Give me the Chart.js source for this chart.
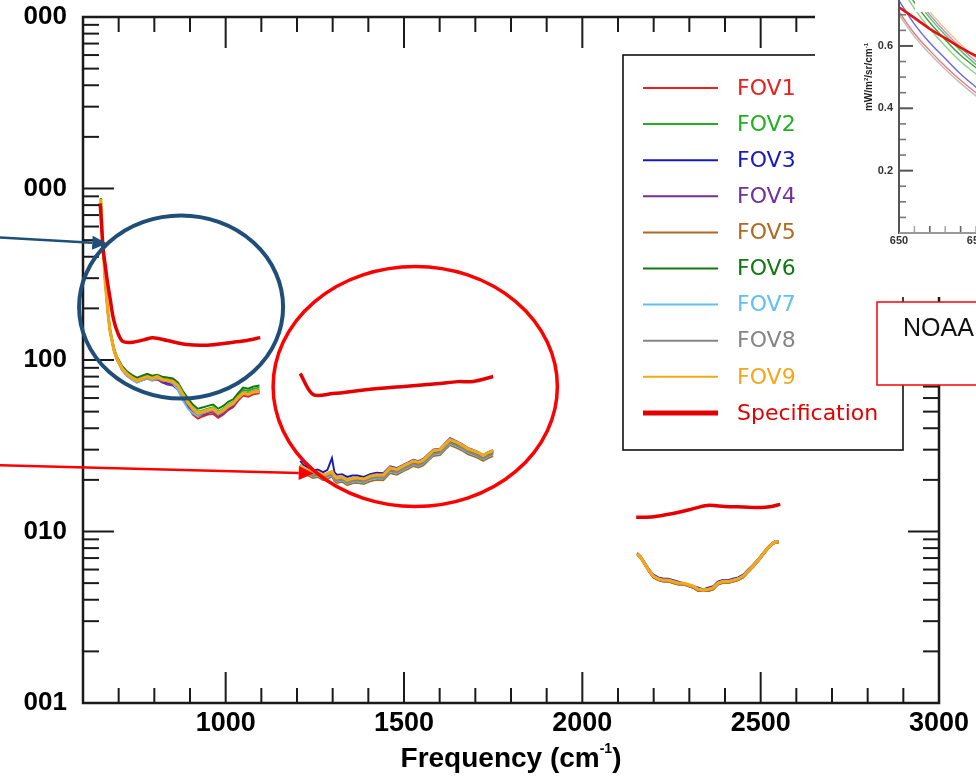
<!DOCTYPE html>
<html><head><meta charset="utf-8">
<script src="https://cdn.jsdelivr.net/npm/chart.js@4.4.1/dist/chart.umd.min.js"></script>
<style>
html,body{margin:0;padding:0;background:#fff;overflow:hidden;width:976px;height:776px;}
#wrap{position:relative;width:976px;height:776px;overflow:hidden;background:#fff;}
#main{position:absolute;left:0;top:0;}
#inset{position:absolute;left:815px;top:-29px;}
</style></head><body>
<div id="wrap">
<canvas id="main" width="976" height="776"></canvas>
<canvas id="inset" width="400" height="326"></canvas>
</div>
<script>
// ---------------- DATA ----------------
const seriesNames = ['FOV1','FOV2','FOV3','FOV4','FOV5','FOV6','FOV7','FOV8','FOV9'];
const specName = 'Specification';

const xTickValues = [1000,1500,2000,2500,3000];
const xTickLabels = ['1000','1500','2000','2500','3000'];
const yTickValues = [0.001,0.01,0.1,1,10];
const yTickLabels = ['001','010','100','000','000'];

// LW band
const lwFreq = [650,653,658,662,670,676,687,695,710,723,737,751,766,780,794,808,822,836,852,866,880,894,908,922,937,950,965,979,993,1007,1021,1035,1049,1063,1077,1095];
const lwFOV1 = [0.86,0.57,0.39,0.28,0.183,0.144,0.112,0.100,0.087,0.081,0.077,0.074,0.076,0.078,0.076,0.077,0.074,0.073,0.072,0.068,0.060,0.053,0.048,0.0455,0.047,0.048,0.0485,0.046,0.048,0.051,0.053,0.058,0.062,0.061,0.063,0.064];
const lwFOV2 = [0.88,0.59,0.41,0.30,0.190,0.150,0.116,0.104,0.091,0.085,0.081,0.078,0.080,0.082,0.080,0.081,0.079,0.077,0.076,0.072,0.064,0.058,0.053,0.050,0.051,0.052,0.053,0.050,0.052,0.055,0.057,0.062,0.067,0.066,0.068,0.069];
const lwFOV3 = [0.87,0.58,0.40,0.29,0.186,0.146,0.113,0.101,0.088,0.082,0.078,0.075,0.077,0.079,0.077,0.078,0.075,0.074,0.073,0.068,0.061,0.055,0.051,0.048,0.049,0.050,0.051,0.048,0.050,0.053,0.055,0.060,0.064,0.063,0.065,0.066];
const lwFOV4 = [0.86,0.58,0.40,0.29,0.185,0.145,0.113,0.101,0.088,0.082,0.078,0.075,0.077,0.079,0.077,0.078,0.074,0.072,0.071,0.067,0.060,0.054,0.050,0.047,0.048,0.049,0.050,0.047,0.049,0.052,0.054,0.059,0.063,0.062,0.064,0.065];
const lwFOV5 = [0.87,0.58,0.40,0.29,0.188,0.148,0.115,0.103,0.090,0.084,0.080,0.077,0.079,0.081,0.079,0.081,0.078,0.077,0.076,0.072,0.063,0.057,0.052,0.049,0.050,0.051,0.052,0.049,0.051,0.054,0.056,0.061,0.065,0.064,0.066,0.067];
const lwFOV6 = [0.88,0.59,0.41,0.30,0.191,0.151,0.117,0.105,0.092,0.086,0.082,0.079,0.081,0.083,0.081,0.082,0.080,0.079,0.078,0.074,0.066,0.060,0.055,0.052,0.053,0.054,0.055,0.052,0.054,0.057,0.059,0.064,0.069,0.068,0.070,0.071];
const lwFOV7 = [0.86,0.57,0.39,0.28,0.184,0.145,0.112,0.100,0.087,0.081,0.077,0.074,0.076,0.078,0.076,0.078,0.076,0.075,0.073,0.067,0.058,0.052,0.049,0.047,0.049,0.050,0.051,0.048,0.050,0.053,0.055,0.060,0.064,0.063,0.065,0.066];
const lwFOV8 = [0.87,0.58,0.40,0.29,0.186,0.146,0.113,0.101,0.088,0.082,0.078,0.075,0.077,0.079,0.077,0.079,0.076,0.075,0.074,0.070,0.062,0.056,0.051,0.048,0.049,0.050,0.051,0.048,0.050,0.053,0.055,0.060,0.064,0.063,0.065,0.066];
const lwFOV9 = [0.87,0.58,0.40,0.29,0.187,0.147,0.114,0.102,0.089,0.083,0.079,0.076,0.078,0.080,0.078,0.080,0.077,0.076,0.075,0.071,0.063,0.0565,0.052,0.049,0.050,0.051,0.052,0.049,0.051,0.054,0.056,0.0605,0.064,0.063,0.065,0.0655];
const lwSpecFreq = [648,650,653,656,662,668,676,685,698,712,740,770,796,836,892,948,1021,1060,1097];
const lwSpec = [0.82,0.72,0.57,0.45,0.36,0.29,0.228,0.175,0.143,0.128,0.127,0.131,0.135,0.130,0.123,0.122,0.127,0.130,0.135];

// MW band
const mwFreq = [1209,1218,1228,1237,1245,1258,1273,1285,1298,1305,1312,1326,1341,1355,1369,1387,1405,1423,1442,1461,1480,1498,1512,1526,1540,1554,1568,1582,1601,1615,1629,1649,1666,1680,1694,1708,1722,1736,1750];
const mwFOV1 = [0.0243,0.0232,0.0227,0.0222,0.0218,0.0221,0.0212,0.0216,0.0222,0.0210,0.0204,0.0207,0.0198,0.0203,0.0204,0.0201,0.0209,0.0213,0.0212,0.0233,0.0228,0.0239,0.0247,0.0256,0.0251,0.0259,0.0275,0.0293,0.0297,0.0318,0.0339,0.0326,0.0313,0.0300,0.0293,0.0285,0.0274,0.0285,0.0293];
const mwFOV2 = [0.0245,0.0235,0.0229,0.0224,0.0220,0.0223,0.0214,0.0218,0.0224,0.0212,0.0206,0.0209,0.0200,0.0205,0.0206,0.0203,0.0211,0.0215,0.0214,0.0235,0.0230,0.0241,0.0249,0.0258,0.0254,0.0262,0.0278,0.0296,0.0300,0.0321,0.0342,0.0329,0.0316,0.0303,0.0296,0.0288,0.0277,0.0288,0.0296];
const mwFOV3 = [0.0258,0.0245,0.0238,0.0232,0.0226,0.0230,0.0222,0.0228,0.0268,0.0222,0.0214,0.0216,0.0208,0.0212,0.0212,0.0208,0.0216,0.0220,0.0219,0.0240,0.0234,0.0245,0.0253,0.0262,0.0257,0.0265,0.0282,0.0300,0.0304,0.0326,0.0350,0.0334,0.0320,0.0306,0.0299,0.0290,0.0279,0.0290,0.0298];
const mwFOV4 = [0.0241,0.0230,0.0225,0.0220,0.0216,0.0219,0.0210,0.0214,0.0220,0.0208,0.0202,0.0205,0.0196,0.0201,0.0202,0.0199,0.0207,0.0211,0.0210,0.0231,0.0226,0.0237,0.0245,0.0253,0.0249,0.0257,0.0272,0.0290,0.0294,0.0315,0.0336,0.0323,0.0310,0.0297,0.0290,0.0282,0.0271,0.0282,0.0290];
const mwFOV5 = [0.0229,0.0218,0.0213,0.0209,0.0205,0.0208,0.0199,0.0203,0.0209,0.0197,0.0192,0.0195,0.0186,0.0191,0.0192,0.0189,0.0196,0.0200,0.0199,0.0219,0.0214,0.0225,0.0232,0.0241,0.0236,0.0243,0.0259,0.0275,0.0279,0.0299,0.0319,0.0306,0.0294,0.0282,0.0275,0.0268,0.0258,0.0268,0.0275];
const mwFOV6 = [0.0238,0.0227,0.0222,0.0218,0.0214,0.0217,0.0208,0.0212,0.0218,0.0206,0.0200,0.0203,0.0194,0.0199,0.0200,0.0197,0.0205,0.0209,0.0208,0.0228,0.0223,0.0234,0.0242,0.0251,0.0246,0.0254,0.0270,0.0287,0.0291,0.0312,0.0332,0.0319,0.0307,0.0294,0.0287,0.0279,0.0269,0.0279,0.0287];
const mwFOV7 = [0.0233,0.0223,0.0218,0.0213,0.0209,0.0212,0.0204,0.0207,0.0213,0.0202,0.0196,0.0199,0.0190,0.0195,0.0196,0.0193,0.0201,0.0204,0.0204,0.0224,0.0219,0.0229,0.0237,0.0246,0.0241,0.0249,0.0264,0.0281,0.0285,0.0305,0.0325,0.0313,0.0300,0.0288,0.0281,0.0274,0.0263,0.0274,0.0281];
const mwFOV8 = [0.0236,0.0225,0.0220,0.0215,0.0211,0.0214,0.0206,0.0210,0.0215,0.0204,0.0198,0.0201,0.0192,0.0197,0.0198,0.0195,0.0203,0.0207,0.0206,0.0226,0.0221,0.0232,0.0240,0.0248,0.0243,0.0251,0.0267,0.0284,0.0288,0.0308,0.0329,0.0316,0.0304,0.0291,0.0284,0.0276,0.0266,0.0276,0.0284];
const mwFOV9 = [0.0244,0.0234,0.0229,0.0223,0.0219,0.0222,0.0213,0.0217,0.0223,0.0211,0.0205,0.0208,0.0199,0.0204,0.0205,0.0202,0.0210,0.0214,0.0213,0.0235,0.0230,0.0241,0.0249,0.0258,0.0253,0.0261,0.0278,0.0296,0.0300,0.0321,0.0343,0.0330,0.0316,0.0303,0.0296,0.0288,0.0277,0.0288,0.0296];
const mwSpecFreq = [1209,1245,1300,1400,1500,1600,1650,1694,1750];
const mwSpec = [0.0834,0.0629,0.0637,0.0673,0.0701,0.0730,0.0748,0.0750,0.0801];

// SW band
const swFreq = [2154,2163,2171,2185,2199,2213,2227,2241,2255,2269,2283,2297,2311,2325,2339,2353,2367,2380,2392,2408,2423,2437,2451,2465,2479,2493,2507,2520,2533,2542,2550];
const swFOV1 = [0.0074,0.0071,0.0067,0.0060,0.0055,0.0053,0.0052,0.0052,0.0051,0.0050,0.0050,0.0049,0.0048,0.0046,0.00455,0.0046,0.0047,0.0050,0.0051,0.0051,0.0052,0.0053,0.0055,0.0059,0.0063,0.0068,0.0074,0.0080,0.0085,0.0087,0.0087];
const swFOV2 = [0.0074,0.0071,0.0067,0.0060,0.0055,0.0053,0.0052,0.0052,0.0051,0.0050,0.0050,0.0049,0.0048,0.0046,0.0046,0.0046,0.0047,0.0050,0.0051,0.0051,0.0052,0.0053,0.0055,0.0059,0.0063,0.0068,0.0074,0.0080,0.0085,0.0087,0.0087];
const swFOV3 = [0.0075,0.0072,0.0068,0.0061,0.0056,0.0054,0.0053,0.0053,0.0052,0.0051,0.0050,0.0049,0.0048,0.0047,0.0046,0.0047,0.0048,0.0051,0.0052,0.0052,0.0053,0.0054,0.0056,0.0060,0.0064,0.0069,0.0075,0.0081,0.0086,0.0088,0.0088];
const swFOV4 = [0.0073,0.0070,0.0066,0.0059,0.0054,0.0052,0.0051,0.0051,0.0050,0.0049,0.0049,0.0048,0.0047,0.0045,0.0045,0.0045,0.0046,0.0049,0.0050,0.0050,0.0051,0.0052,0.0054,0.0058,0.0062,0.0067,0.0073,0.0079,0.0084,0.0086,0.0086];
const swFOV5 = [0.0073,0.0070,0.0066,0.0059,0.0054,0.0052,0.0051,0.0051,0.0050,0.0049,0.0049,0.0048,0.0047,0.0045,0.0045,0.0045,0.0046,0.0049,0.0050,0.0050,0.0051,0.0052,0.0054,0.0058,0.0062,0.0067,0.0073,0.0079,0.0084,0.0086,0.0086];
const swFOV6 = [0.0074,0.0071,0.0067,0.0060,0.0055,0.0053,0.0052,0.0052,0.0051,0.0050,0.0050,0.0049,0.0048,0.0046,0.0046,0.0046,0.0047,0.0050,0.0051,0.0051,0.0052,0.0053,0.0055,0.0059,0.0063,0.0068,0.0074,0.0080,0.0085,0.0087,0.0087];
const swFOV7 = [0.0074,0.0071,0.0067,0.0060,0.0055,0.0053,0.0052,0.0052,0.0051,0.0050,0.0050,0.0049,0.0048,0.0046,0.0046,0.0046,0.0047,0.0050,0.0051,0.0051,0.0052,0.0053,0.0055,0.0059,0.0063,0.0068,0.0074,0.0080,0.0085,0.0087,0.0088];
const swFOV8 = [0.0074,0.0071,0.0067,0.0060,0.0055,0.0053,0.0052,0.0052,0.0051,0.0050,0.0050,0.0049,0.0048,0.0046,0.0045,0.0046,0.0047,0.0050,0.0051,0.0051,0.0052,0.0053,0.0055,0.0059,0.0064,0.0069,0.0075,0.0081,0.0086,0.0088,0.0088];
const swFOV9 = [0.0074,0.0071,0.0067,0.0060,0.0055,0.0053,0.0052,0.0052,0.0051,0.0050,0.0050,0.0049,0.0048,0.0046,0.00455,0.0046,0.0047,0.0050,0.0051,0.0051,0.0052,0.0053,0.0055,0.0059,0.0063,0.0068,0.0074,0.0080,0.0085,0.0087,0.0087];
const swSpecFreq = [2151,2200,2250,2300,2350,2400,2450,2500,2530,2555];
const swSpec = [0.0121,0.0122,0.0127,0.0134,0.0142,0.0140,0.0139,0.0138,0.0140,0.0144];

// Inset (partially visible radiance plot)
const insetFreq = [650,651,652,653,654,655,656];
const insetGray   = [0.70,0.63,0.575,0.525,0.48,0.44,0.405];
const insetPink   = [0.71,0.64,0.585,0.535,0.49,0.45,0.415];
const insetBlue   = [0.745,0.67,0.61,0.56,0.51,0.468,0.43];
const insetLGreen = [0.80,0.72,0.655,0.60,0.55,0.51,0.47];
const insetDGreen = [0.82,0.74,0.675,0.62,0.57,0.53,0.49];
const insetGreen  = [0.83,0.755,0.69,0.635,0.585,0.54,0.50];
const insetPurple = [0.845,0.765,0.70,0.645,0.595,0.55,0.51];
const insetOrange = [0.86,0.78,0.71,0.655,0.605,0.56,0.52];
const insetRed    = [0.724,0.69,0.655,0.625,0.595,0.568,0.545];
const insetXTicks = [650,655,660];
const insetXLabels = ['650','655','660'];
const insetYTicks = [0.2,0.4,0.6];
const insetYLabels = ['0.2','0.4','0.6'];

// ---------------- STYLE ----------------
const fovColors = ['#e82020','#22b022','#1818c0','#7030a0','#b06a20','#107810','#60c0f0','#858585','#f2a81a'];
const specColor = '#e40000';

const lwAll = [lwFOV1,lwFOV2,lwFOV3,lwFOV4,lwFOV5,lwFOV6,lwFOV7,lwFOV8,lwFOV9];
const mwAll = [mwFOV1,mwFOV2,mwFOV3,mwFOV4,mwFOV5,mwFOV6,mwFOV7,mwFOV8,mwFOV9];
const swAll = [swFOV1,swFOV2,swFOV3,swFOV4,swFOV5,swFOV6,swFOV7,swFOV8,swFOV9];

function pts(fr, vals){ return fr.map((f,i)=>({x:f,y:vals[i]})); }
function bands(a,b,c,fa,fb,fc){
  return [...pts(fa,a),{x:1150,y:null},...pts(fb,b),{x:1950,y:null},...pts(fc,c)];
}

// later FOVs drawn on top (Chart.js draws lower "order" last)
const datasets = seriesNames.map((n,i)=>({
  label:n,
  data:bands(lwAll[i],mwAll[i],swAll[i],lwFreq,mwFreq,swFreq),
  borderColor:fovColors[i], backgroundColor:fovColors[i],
  borderWidth:(i===8)?3.2:1.9, pointRadius:0, tension:0, spanGaps:false,
  order:seriesNames.length-i
}));
datasets.push({
  label:specName,
  data:bands(lwSpec,mwSpec,swSpec,lwSpecFreq,mwSpecFreq,swSpecFreq),
  borderColor:specColor, backgroundColor:specColor,
  borderWidth:3.5, pointRadius:0, tension:0.3, spanGaps:false, isSpec:true, order:0
});

// annotations in data coordinates (freq, value)
const annotations = {
  blueEllipse:{f0:589,f1:1161,v0:0.696,v1:0.0596,color:'#1f4e79',width:4},
  redEllipse:{f0:1133,f1:1930,v0:0.351,v1:0.01398,color:'#ff0000',width:3.5},
  blueArrow:{f0:367,v0:0.518,f1:668,v1:0.478,color:'#1f4e79'},
  redArrow:{f0:367,v0:0.0243,f1:1247,v1:0.0218,color:'#ff0000'}
};

const LBL = '"Liberation Sans", Arial, Helvetica, sans-serif';

function line(ctx,x1,y1,x2,y2){ctx.beginPath();ctx.moveTo(x1,y1);ctx.lineTo(x2,y2);ctx.stroke();}
function arrow(ctx,x1,y1,x2,y2,color){
  const ang=Math.atan2(y2-y1,x2-x1), L=15, W=7;
  const bx=x2-L*Math.cos(ang), by=y2-L*Math.sin(ang);
  ctx.strokeStyle=color; ctx.fillStyle=color; ctx.lineWidth=2.5;
  line(ctx,x1,y1,bx,by);
  ctx.beginPath();
  ctx.moveTo(x2,y2);
  ctx.lineTo(bx+W*Math.sin(ang),by-W*Math.cos(ang));
  ctx.lineTo(bx-W*Math.sin(ang),by+W*Math.cos(ang));
  ctx.closePath(); ctx.fill();
}

const mainDecor = {
  id:'mainDecor',
  afterDraw(chart){
    const ctx=chart.ctx, a=chart.chartArea, xs=chart.scales.x, ys=chart.scales.y;
    ctx.save();
    ctx.strokeStyle='#1a1a1a'; ctx.lineCap='butt';
    // ticks
    ctx.lineWidth=2;
    for(let v=700; v<3000; v+=100){
      const px=xs.getPixelForValue(v);
      const len=(v%500===0)?31:15;
      line(ctx,px,a.bottom,px,a.bottom-len);
      line(ctx,px,a.top,px,a.top+len);
    }
    for(let d=-3; d<=0; d++){
      for(let m=1; m<10; m++){
        if(m===1 && d===-3) continue;
        const py=ys.getPixelForValue(m*Math.pow(10,d));
        const len=(m===1)?31:16;
        line(ctx,a.left,py,a.left+len,py);
        line(ctx,a.right,py,a.right-len,py);
      }
    }
    // frame
    ctx.lineWidth=2.5;
    ctx.strokeRect(a.left,a.top,a.right-a.left,a.bottom-a.top);

    // x title
    ctx.fillStyle='#000';
    ctx.textBaseline='alphabetic';
    ctx.font='bold 28px '+LBL;
    const t1='Frequency (cm', t3=')';
    const w1=ctx.measureText(t1).width, w3=ctx.measureText(t3).width;
    ctx.font='bold 14px '+LBL;
    const t2='-1', w2=ctx.measureText(t2).width;
    const cx=(a.left+a.right)/2, x0=cx-(w1+w2+w3)/2, base=767;
    ctx.font='bold 28px '+LBL; ctx.textAlign='left';
    ctx.fillText(t1,x0,base);
    ctx.font='bold 14px '+LBL;
    ctx.fillText(t2,x0+w1,base-14);
    ctx.font='bold 28px '+LBL;
    ctx.fillText(t3,x0+w1+w2,base);

    // legend
    const lx0=623, ly0=55, lx1=903, ly1=450;
    ctx.fillStyle='#fff'; ctx.fillRect(lx0,ly0,lx1-lx0,ly1-ly0);
    ctx.strokeStyle='#111'; ctx.lineWidth=1.6; ctx.strokeRect(lx0,ly0,lx1-lx0,ly1-ly0);
    ctx.font='22px "DejaVu Sans", sans-serif'; ctx.textBaseline='middle'; ctx.textAlign='left';
    chart.data.datasets.forEach((ds,i)=>{
      const yy=88+i*36.1;
      ctx.strokeStyle=ds.borderColor; ctx.lineWidth=ds.isSpec?5:2;
      line(ctx,643,yy,718,yy);
      ctx.fillStyle=ds.borderColor;
      ctx.fillText(ds.label,737,yy+1);
    });

    // annotations
    const be=annotations.blueEllipse, re=annotations.redEllipse;
    [be,re].forEach(e=>{
      const xA=xs.getPixelForValue(e.f0), xB=xs.getPixelForValue(e.f1);
      const yA=ys.getPixelForValue(e.v0), yB=ys.getPixelForValue(e.v1);
      ctx.strokeStyle=e.color; ctx.lineWidth=e.width;
      ctx.beginPath();
      ctx.ellipse((xA+xB)/2,(yA+yB)/2,Math.abs(xB-xA)/2,Math.abs(yB-yA)/2,0,0,Math.PI*2);
      ctx.stroke();
    });
    [annotations.blueArrow,annotations.redArrow].forEach(r=>{
      arrow(ctx,xs.getPixelForValue(r.f0),ys.getPixelForValue(r.v0),
                xs.getPixelForValue(r.f1),ys.getPixelForValue(r.v1),r.color);
    });

    // NOAA box
    ctx.fillStyle='#fff'; ctx.fillRect(877,302,140,83);
    ctx.strokeStyle='#ff0000'; ctx.lineWidth=1.5; ctx.strokeRect(877,302,140,83);
    ctx.fillStyle='#111'; ctx.font='25px '+LBL; ctx.textBaseline='alphabetic'; ctx.textAlign='left';
    ctx.fillText('NOAA',903,336);
    ctx.restore();
  }
};

new Chart(document.getElementById('main'),{
  type:'line',
  data:{datasets},
  options:{
    responsive:false, animation:false, events:[],
    layout:{padding:{top:17,right:37,left:0,bottom:0}},
    plugins:{legend:{display:false},tooltip:{enabled:false}},
    scales:{
      x:{type:'linear',min:600,max:3000,
        grid:{display:false,drawTicks:false}, border:{display:false},
        afterBuildTicks:(s)=>{s.ticks=xTickValues.map(v=>({value:v}));},
        afterFit:(s)=>{s.height=73;s.paddingLeft=0;s.paddingRight=0;},
        ticks:{autoSkip:false,maxRotation:0,padding:4,color:'#000',
          font:{family:LBL,size:27,weight:'bold'},
          callback:(v,i)=>xTickLabels[i]}
      },
      y:{type:'logarithmic',min:0.001,max:10,
        grid:{display:false,drawTicks:false}, border:{display:false},
        afterBuildTicks:(s)=>{s.ticks=yTickValues.map(v=>({value:v}));},
        afterFit:(s)=>{s.width=83;s.paddingTop=0;s.paddingBottom=0;},
        ticks:{autoSkip:false,padding:16,color:'#000',
          font:{family:LBL,size:26,weight:'bold'},
          callback:(v,i)=>yTickLabels[i]}
      }
    }
  },
  plugins:[mainDecor]
});

// ---------------- INSET ----------------
const insetDecor = {
  id:'insetDecor',
  beforeDraw(chart){
    const ctx=chart.ctx; ctx.save(); ctx.fillStyle='#fff';
    ctx.fillRect(0,0,chart.width,chart.height); ctx.restore();
  },
  afterDraw(chart){
    const ctx=chart.ctx, a=chart.chartArea, xs=chart.scales.x, ys=chart.scales.y;
    ctx.save();
    // white label box covering top
    ctx.fillStyle='#fff'; ctx.fillRect(a.left+16,0,400,41);
    // y minor/major ticks
    for(let k=1;k<=15;k++){
      const v=k*0.05, py=ys.getPixelForValue(v);
      const major=(k%4===0);
      ctx.strokeStyle=major?'#555':'#777'; ctx.lineWidth=major?2:1.6;
      line(ctx,a.left,py,a.left+(major?14:7),py);
    }
    for(let v=651; v<660; v++){
      const px=xs.getPixelForValue(v);
      ctx.strokeStyle=(v%2===0)?'#666':'#aaa'; ctx.lineWidth=1.6;
      line(ctx,px,a.bottom,px,a.bottom-7);
    }
    ctx.strokeStyle='#555'; ctx.lineWidth=2;
    line(ctx,a.left,a.top-40,a.left,a.bottom+1);
    ctx.strokeStyle='#999';
    line(ctx,a.left,a.bottom,a.right,a.bottom);
    // y title rotated
    ctx.translate(54,106); ctx.rotate(-Math.PI/2);
    ctx.fillStyle='#222'; ctx.textBaseline='middle';
    const parts=[['mW/m',10,0],['2',6,-3],['/sr/cm',10,0],['-1',6,-3]];
    let tot=0; parts.forEach(p=>{ctx.font='bold '+p[1]+'px '+LBL; tot+=ctx.measureText(p[0]).width;});
    let xx=-tot/2;
    parts.forEach(p=>{ctx.font='bold '+p[1]+'px '+LBL; ctx.textAlign='left';
      ctx.fillText(p[0],xx,p[2]); xx+=ctx.measureText(p[0]).width;});
    ctx.restore();
  }
};

const insetSets = [
  [insetGray,'#bdbdbd',1.4],[insetPink,'#e87a7a',1.4],[insetBlue,'#6868e0',1.4],
  [insetLGreen,'#86d486',1.4],[insetDGreen,'#3f9f3f',1.4],[insetGreen,'#5fc05f',1.4],
  [insetPurple,'#b392e2',1.4],[insetOrange,'#f6c777',1.4],[insetRed,'#e81010',2.6]
].map((s,i)=>({data:pts(insetFreq,s[0]),borderColor:s[1],borderWidth:s[2],pointRadius:0,tension:0.4,order:9-i}));

new Chart(document.getElementById('inset'),{
  type:'line',
  data:{datasets:insetSets},
  options:{
    responsive:false, animation:false, events:[],
    layout:{padding:{top:10,right:162,left:0,bottom:0}},
    plugins:{legend:{display:false},tooltip:{enabled:false}},
    scales:{
      x:{type:'linear',min:650,max:660,
        grid:{display:false,drawTicks:false}, border:{display:false},
        afterBuildTicks:(s)=>{s.ticks=insetXTicks.map(v=>({value:v}));},
        afterFit:(s)=>{s.height=64;},
        ticks:{autoSkip:false,maxRotation:0,padding:1,color:'#333',
          font:{family:LBL,size:11,weight:'bold'},callback:(v,i)=>insetXLabels[i]}
      },
      y:{type:'linear',min:0,max:0.8,
        grid:{display:false,drawTicks:false}, border:{display:false},
        afterBuildTicks:(s)=>{s.ticks=insetYTicks.map(v=>({value:v}));},
        afterFit:(s)=>{s.width=84;},
        ticks:{autoSkip:false,padding:6,color:'#333',
          font:{family:LBL,size:11,weight:'bold'},callback:(v,i)=>insetYLabels[i]}
      }
    }
  }
  ,plugins:[insetDecor]
});
</script>
</body></html>
